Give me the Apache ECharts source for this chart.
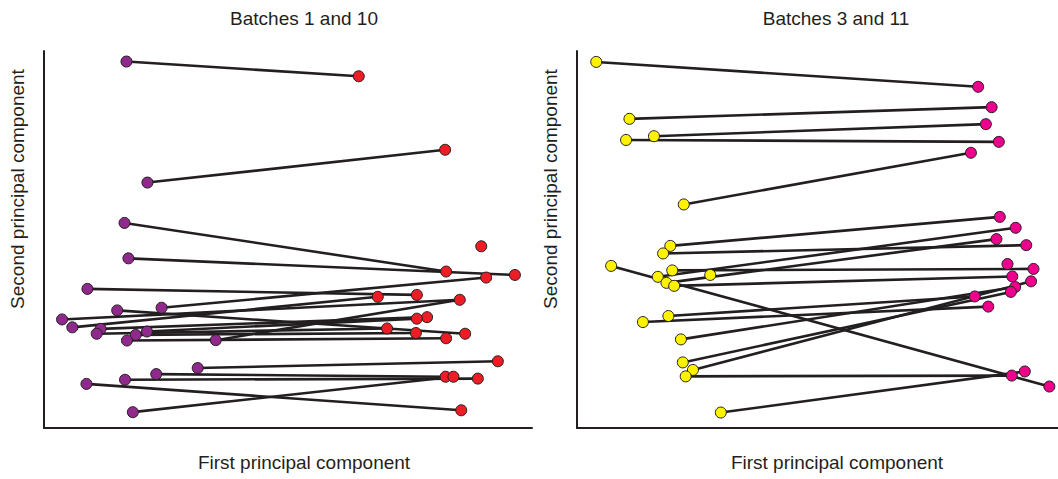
<!DOCTYPE html>
<html>
<head>
<meta charset="utf-8">
<script src="https://cdn.jsdelivr.net/npm/echarts@6/dist/echarts.min.js"></script>
<style>html,body{margin:0;padding:0;background:#fff}#c{width:1058px;height:479px}</style>
</head>
<body>
<div id="c"></div>
<script>
// Panel titles and axis names
const panelTitles = ['Batches 1 and 10', 'Batches 3 and 11'];
const xName = 'First principal component';
const yName = 'Second principal component';

// Left panel: batch 1 (purple) and batch 10 (red), PC1 / PC2 in arbitrary units (0-100)
const b1x  = [16.9, 21.2, 16.5, 17.3, 8.9, 24.1, 3.7, 15.0, 5.8, 11.6, 10.8, 18.8, 21.1, 17.0, 35.2, 31.5, 23.0, 16.6, 8.7, 18.2];
const b1y  = [97.2, 65.1, 54.4, 45.0, 36.9, 31.9, 28.8, 31.2, 26.7, 26.3, 25.0, 24.7, 25.6, 23.2, 23.3, 15.9, 14.3, 12.8, 11.7, 4.2];
const b10x = [64.5, 82.2, 82.4, 96.5, 76.4, 90.6, 85.2, 86.3, 68.4, 78.5, 70.3, 76.2, 76.4, 82.4, 93.0, 82.3, 88.9, 85.5, 83.9, 89.6];
const b10y = [93.3, 73.8, 41.5, 40.6, 35.3, 39.9, 34.0, 25.0, 34.8, 29.4, 26.4, 25.2, 29.0, 23.8, 17.7, 13.6, 13.1, 4.7, 13.6, 48.2];
// pairs [batch1 index, batch10 index]
const links1 = [[0,0],[1,1],[2,2],[3,3],[4,4],[5,5],[6,6],[7,7],[8,8],[9,9],[10,10],[11,11],[12,12],[13,13],[14,6],[15,14],[16,15],[17,16],[18,17],[19,18]];

// Right panel: batch 3 (yellow) and batch 11 (magenta)
const b3x  = [4.0, 10.9, 16.0, 10.2, 22.2, 19.4, 17.9, 7.1, 19.8, 16.8, 27.7, 18.6, 20.2, 19.0, 13.7, 21.6, 22.0, 24.1, 22.6, 29.9];
const b3y  = [97.1, 82.0, 77.4, 76.4, 59.3, 48.3, 46.3, 43.0, 41.8, 40.1, 40.6, 38.5, 37.7, 29.7, 28.1, 23.5, 17.4, 15.4, 13.7, 4.1];
const b11x = [83.4, 86.2, 85.0, 87.7, 81.9, 87.9, 93.4, 98.2, 94.9, 91.2, 87.2, 90.5, 82.7, 85.5, 91.1, 90.2, 94.4, 90.4, 93.1, 89.5];
const b11y = [90.5, 85.1, 80.6, 75.9, 73.0, 56.0, 48.5, 11.0, 42.2, 53.1, 50.1, 40.2, 34.9, 32.2, 37.4, 36.1, 38.9, 13.9, 15.0, 43.5];
const links2 = [[0,0],[1,1],[2,2],[3,3],[4,4],[5,5],[6,6],[7,7],[8,8],[9,9],[11,10],[12,11],[13,12],[14,13],[15,14],[16,15],[17,16],[18,17],[19,18]];

const C = {purple:'#8f2a8c', red:'#ee1c25', yellow:'#fff200', magenta:'#ec008c', ink:'#231f20'};
const FONT = '19px "Liberation Sans", Arial, sans-serif';

function pts(xs, ys){ return xs.map((x,i)=>[x, ys[i]]); }
function segs(ax, ay, bx, by, links){
  return links.map(([i,j]) => ({coords: [[ax[i], ay[i]], [bx[j], by[j]]]}));
}
function axisBase(){
  return {
    min: 0, max: 100,
    axisLine: {show: true, onZero: false, lineStyle: {color: C.ink, width: 2}},
    axisTick: {show: false}, axisLabel: {show: false}, splitLine: {show: false}
  };
}
function scatter(data, color, gi){
  return {type:'scatter', xAxisIndex: gi, yAxisIndex: gi, data, symbolSize: 11, z: 5,
    itemStyle: {color, borderColor: C.ink, borderWidth: 1, opacity: 1}, silent: true};
}
function linesS(data, gi){
  return {type:'lines', coordinateSystem:'cartesian2d', xAxisIndex: gi, yAxisIndex: gi, data, z: 2,
    lineStyle: {color: C.ink, width: 2.6, opacity: 1, curveness: 0}, silent: true};
}

const chart = echarts.init(document.getElementById('c'), null, {renderer: 'svg'});
chart.setOption({
  animation: false,
  grid: [
    {left: 44, width: 488, top: 51, height: 377},
    {left: 577, width: 481, top: 51, height: 377}
  ],
  xAxis: [Object.assign(axisBase(), {gridIndex: 0}), Object.assign(axisBase(), {gridIndex: 1})],
  yAxis: [Object.assign(axisBase(), {gridIndex: 0}), Object.assign(axisBase(), {gridIndex: 1})],
  graphic: [
    {type:'text', x: 304, y: 18, style:{text: panelTitles[0], font: FONT, fill: C.ink, align:'center', verticalAlign:'middle'}},
    {type:'text', x: 836, y: 18, style:{text: panelTitles[1], font: FONT, fill: C.ink, align:'center', verticalAlign:'middle'}},
    {type:'text', x: 304, y: 462, style:{text: xName, font: FONT, fill: C.ink, align:'center', verticalAlign:'middle'}},
    {type:'text', x: 837, y: 462, style:{text: xName, font: FONT, fill: C.ink, align:'center', verticalAlign:'middle'}},
    {type:'text', x: 17, y: 189, rotation: Math.PI/2, style:{text: yName, font: FONT, fill: C.ink, align:'center', verticalAlign:'middle'}},
    {type:'text', x: 550, y: 189, rotation: Math.PI/2, style:{text: yName, font: FONT, fill: C.ink, align:'center', verticalAlign:'middle'}}
  ],
  series: [
    linesS(segs(b1x, b1y, b10x, b10y, links1), 0),
    linesS(segs(b3x, b3y, b11x, b11y, links2), 1),
    scatter(pts(b1x, b1y), C.purple, 0),
    scatter(pts(b10x, b10y), C.red, 0),
    scatter(pts(b3x, b3y), C.yellow, 1),
    scatter(pts(b11x, b11y), C.magenta, 1)
  ]
});
</script>
</body>
</html>
